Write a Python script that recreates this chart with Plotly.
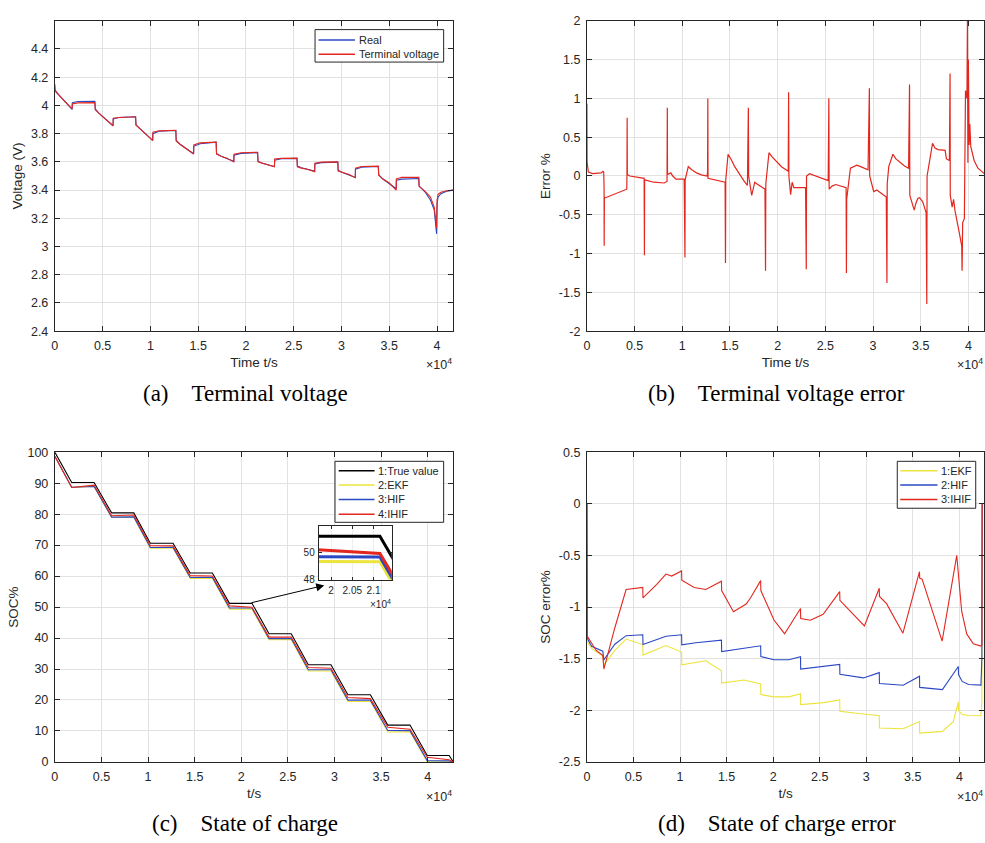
import plotly.graph_objects as go

# ---------------------------------------------------------------- data
# (a) terminal voltage: measured vs. model output
t_volt = [0, 60, 600, 1200, 1810, 1830, 2400, 4190, 4230, 4600, 5300, 6090, 6110, 6700,
          8450, 8490, 8900, 9500, 10240, 10260, 10900, 12660, 12700, 13100, 13800, 14520,
          14540, 15200, 16880, 16920, 17400, 18000, 18730, 18750, 19500, 21220, 21260,
          21700, 22300, 22980, 23000, 23700, 25340, 25380, 25800, 26400, 27190, 27210,
          27900, 29610, 29650, 30100, 30800, 31440, 31460, 32100, 33850, 33890, 34300,
          35000, 35720, 35740, 36300, 38080, 38120, 38700, 39300, 39700, 39950, 40000,
          40100, 40400, 41000, 41700]
v_real = [4.11, 4.10, 4.06, 4.015, 3.972, 4.02, 4.028, 4.03, 3.975, 3.945, 3.90, 3.856,
          3.905, 3.915, 3.92, 3.862, 3.835, 3.80, 3.752, 3.80, 3.817, 3.822, 3.752, 3.725,
          3.69, 3.658, 3.71, 3.728, 3.74, 3.66, 3.64, 3.622, 3.605, 3.648, 3.66, 3.665,
          3.605, 3.59, 3.577, 3.567, 3.612, 3.622, 3.625, 3.57, 3.558, 3.548, 3.535, 3.585,
          3.595, 3.598, 3.54, 3.525, 3.505, 3.49, 3.548, 3.562, 3.567, 3.51, 3.48, 3.445,
          3.41, 3.47, 3.478, 3.482, 3.43, 3.39, 3.33, 3.26, 3.09, 3.30, 3.35, 3.375, 3.392,
          3.40]
v_model = [4.15, 4.105, 4.06, 4.015, 3.975, 4.01, 4.018, 4.02, 3.97, 3.945, 3.90, 3.856,
           3.91, 3.915, 3.92, 3.862, 3.835, 3.80, 3.75, 3.81, 3.82, 3.824, 3.748, 3.725,
           3.69, 3.656, 3.72, 3.735, 3.74, 3.655, 3.64, 3.625, 3.60, 3.655, 3.665, 3.668,
           3.60, 3.59, 3.577, 3.565, 3.62, 3.625, 3.627, 3.565, 3.556, 3.548, 3.53, 3.59,
           3.598, 3.60, 3.535, 3.525, 3.51, 3.488, 3.555, 3.567, 3.57, 3.505, 3.48, 3.45,
           3.40, 3.48, 3.49, 3.49, 3.425, 3.395, 3.35, 3.28, 3.13, 3.33, 3.37, 3.385, 3.395,
           3.40]

# (b) terminal voltage error, %
t_err = [0, 20, 150, 600, 1500, 1680, 1760, 1800, 1810, 1830, 1950, 3000, 4180, 4200,
         4220, 4240, 4500, 5900, 6000, 6030, 6050, 7000, 8100, 8400, 8430, 8450, 8800,
         9000, 9340, 10200, 10280, 10300, 10630, 11000, 11500, 12000, 12600, 12650, 12680,
         12700, 14490, 14530, 14560, 14800, 15100, 15500, 16000, 16500, 16830, 16930,
         16960, 17280, 17600, 17800, 18670, 18730, 18760, 19090, 19400, 19900, 20400,
         21110, 21150, 21180, 21360, 21520, 21700, 22930, 23000, 23030, 23340, 25300,
         25370, 25400, 25700, 26100, 27180, 27210, 27240, 27630, 28000, 28300, 28700,
         29480, 29620, 29650, 30070, 30400, 31390, 31460, 31490, 31650, 32090, 32400,
         32900, 33300, 33730, 33830, 33860, 34320, 34500, 34700, 34880, 35200, 35570,
         35640, 35670, 35920, 36240, 36500, 36800, 37560, 37700, 38010, 38080, 38100,
         38300, 38450, 38600, 39000, 39300, 39340, 39400, 39580, 39700, 39850, 39900,
         39950, 40000, 40080, 40150, 40250, 40600, 41000, 41670]
err_volt = [0.93, 0.18, 0.05, 0.03, 0.04, 0.06, 0.05, -0.15, -0.9, -0.28, -0.28, -0.23,
            -0.17, 0.0, 0.75, 0.02, 0.0, -0.02, -0.03, -1.02, -0.05, -0.08, -0.09, -0.07,
            0.88, 0.02, 0.04, 0.0, -0.04, -0.04, -1.05, -0.05, 0.12, 0.08, 0.04, 0.015,
            0.0, 0.05, 1.0, -0.03, -0.08, -1.12, -0.05, 0.28, 0.22, 0.12, 0.02, -0.07,
            -0.12, 0.88, 0.0, -0.25, -0.08, -0.1, -0.17, -1.22, -0.1, 0.3, 0.25, 0.18,
            0.12, 0.06, 1.08, 0.0, -0.24, -0.08, -0.15, -0.15, -1.2, 0.0, 0.03, -0.06, 1.0,
            -0.17, -0.13, -0.11, -0.15, -1.25, -0.3, 0.1, 0.12, 0.14, 0.12, 0.08, 1.13,
            0.0, -0.2, -0.18, -0.27, -1.38, -0.1, 0.12, 0.28, 0.22, 0.17, 0.13, 0.1, 1.18,
            -0.25, -0.44, -0.35, -0.29, -0.28, -0.33, -0.47, -1.65, 0.0, 0.2, 0.42, 0.36,
            0.34, 0.33, 0.22, 0.2, 1.32, -0.25, -0.4, -0.3, -0.45, -0.7, -0.9, -1.22, -0.6,
            -0.55, 1.1, 1.0, 2.0, 0.17, 1.5, 0.4, 0.67, 0.38, 0.2, 0.1, 0.03]

# (c) state of charge, %
t_soc = [0, 1810, 4210, 6090, 8470, 10240, 12680, 14520, 16900, 18730, 21150, 22980,
         25360, 27190, 29620, 31440, 33850, 35720, 38100, 39950, 42300, 42750]
soc_true = [100, 90.2, 90.2, 80.4, 80.4, 70.6, 70.6, 61.0, 61.0, 51.2, 51.2, 41.4, 41.4,
            31.4, 31.4, 21.7, 21.7, 11.9, 11.9, 2.1, 2.1, 0]
soc_ekf = [98.68, 88.63, 88.90, 78.93, 79.03, 69.04, 69.08, 59.26, 59.28, 49.34, 49.32,
           39.45, 39.48, 29.39, 29.36, 19.53, 19.53, 9.68, 9.70, 0.10, 0.05, 0]
soc_hif = [98.70, 88.66, 88.92, 79.03, 79.11, 69.23, 69.27, 59.56, 59.59, 49.71, 49.68,
           39.80, 39.83, 29.74, 29.75, 19.96, 19.95, 10.13, 10.12, 0.43, 0.34, 0]
soc_ihif = [98.70, 88.60, 89.38, 79.49, 79.72, 69.85, 69.76, 60.16, 60.03, 50.38, 49.94,
            40.29, 40.32, 30.47, 30.23, 20.80, 20.45, 11.18, 10.57, 1.50, 0.73, 0]

# (d) state of charge error, %
t_ihif = [0, 30, 1000, 1710, 1820, 3000, 4210, 5000, 6000, 6020, 7500, 8490, 9100,
          10170, 10190, 11520, 12770, 14450, 14470, 15740, 16880, 17100, 17580, 18660,
          18680, 20090, 21230, 22940, 22960, 24010, 25370, 27150, 27170, 29800, 31400,
          31420, 32180, 33940, 35720, 35740, 36000, 38150, 39720, 40250, 40790, 41500,
          42320, 42420, 42450]
err_ihif = [0, -1.28, -1.42, -1.47, -1.60, -1.20, -0.83, -0.82, -0.81, -0.91, -0.78,
            -0.68, -0.70, -0.65, -0.74, -0.81, -0.83, -0.75, -0.84, -1.046, -0.98, -0.97,
            -0.91, -0.744, -0.84, -1.125, -1.258, -1.014, -1.11, -1.127, -1.07, -0.85,
            -0.935, -1.183, -0.818, -0.897, -0.967, -1.253, -0.657, -0.72, -0.73, -1.33,
            -0.50, -1.04, -1.26, -1.355, -1.378, -1.37, 0]
t_hif = [0, 30, 500, 1710, 1820, 1830, 3000, 4210, 6000, 6020, 8490, 10170, 10190, 11700,
         14450, 14470, 18660, 18680, 20090, 21700, 22940, 22960, 27150, 27170, 29700,
         31400, 31420, 33970, 35720, 35740, 38180, 39350, 39890, 39910, 40300, 41000,
         42320, 42420, 42450]
err_hif = [0, -1.30, -1.38, -1.427, -1.513, -1.51, -1.36, -1.277, -1.268, -1.363, -1.283,
           -1.268, -1.366, -1.346, -1.32, -1.431, -1.375, -1.48, -1.51, -1.51, -1.48,
           -1.60, -1.555, -1.65, -1.686, -1.635, -1.74, -1.757, -1.67, -1.778, -1.80,
           -1.654, -1.575, -1.654, -1.72, -1.75, -1.756, -1.5, 0]
t_ekf = [0, 30, 500, 1710, 1820, 1830, 3000, 4210, 6000, 6020, 8490, 10170, 10190, 12770,
         14450, 14470, 16880, 18660, 18680, 20090, 21700, 22940, 22960, 25440, 27150,
         27170, 29700, 31400, 31420, 33970, 35720, 35740, 38180, 39350, 39890, 39910,
         40300, 41000, 42320, 42420, 42450]
err_ekf = [0, -1.33, -1.40, -1.474, -1.57, -1.56, -1.42, -1.31, -1.363, -1.465, -1.372,
           -1.436, -1.56, -1.52, -1.617, -1.737, -1.706, -1.744, -1.848, -1.87, -1.87,
           -1.84, -1.944, -1.925, -1.90, -2.01, -2.036, -2.052, -2.172, -2.179, -2.109,
           -2.22, -2.204, -2.109, -1.92, -2.0, -2.04, -2.05, -2.052, -1.9, 0]

# tick labels
time_ticks = [0, 5000, 10000, 15000, 20000, 25000, 30000, 35000, 40000]
time_labels = ["0", "0.5", "1", "1.5", "2", "2.5", "3", "3.5", "4"]
volt_ticks = [2.4, 2.6, 2.8, 3.0, 3.2, 3.4, 3.6, 3.8, 4.0, 4.2, 4.4]
volt_labels = ["2.4", "2.6", "2.8", "3", "3.2", "3.4", "3.6", "3.8", "4", "4.2", "4.4"]
verr_ticks = [-2, -1.5, -1, -0.5, 0, 0.5, 1, 1.5, 2]
verr_labels = ["-2", "-1.5", "-1", "-0.5", "0", "0.5", "1", "1.5", "2"]
soc_ticks = [0, 10, 20, 30, 40, 50, 60, 70, 80, 90, 100]
soc_labels = [str(v) for v in soc_ticks]
serr_ticks = [-2.5, -2, -1.5, -1, -0.5, 0, 0.5]
serr_labels = ["-2.5", "-2", "-1.5", "-1", "-0.5", "0", "0.5"]
zoom_ticks = [20000, 20500, 21000]
zoom_labels = ["2", "2.05", "2.1"]

# ---------------------------------------------------------------- style
W, H = 985, 843
SANS = "Liberation Sans, Arial, sans-serif"
SERIF = "Liberation Serif, Times New Roman, serif"
INK = "#262626"
GRID = "#e2e2e2"
BLUE = "#2a48c4"
RED = "#e3261e"
YELLOW = "#ece43c"
BLACK = "#000000"


def fx(px):
    return px / W


def fy(px):
    return 1 - px / H


def axis(dom, rng, tv, tt, title=None, size=12.5, grid=True, **kw):
    d = dict(domain=dom, range=rng, tickvals=tv, ticktext=tt, showline=True,
             linecolor=INK, linewidth=1, mirror="ticks", ticks="inside", ticklen=5,
             tickcolor=INK, tickwidth=1, showgrid=grid, gridcolor=GRID, gridwidth=1,
             zeroline=False, ticklabelstandoff=3,
             tickfont=dict(family=SANS, size=size, color=INK))
    if title:
        d["title"] = dict(text=title, font=dict(family=SANS, size=13.5, color=INK))
    d.update(kw)
    return d


fig = go.Figure()

# (a)
fig.add_trace(go.Scatter(x=t_volt, y=v_real, mode="lines", name="Real",
                         line=dict(color=BLUE, width=1.1), xaxis="x", yaxis="y"))
fig.add_trace(go.Scatter(x=t_volt, y=v_model, mode="lines", name="Terminal voltage",
                         line=dict(color=RED, width=1.1), xaxis="x", yaxis="y"))
# (b)
fig.add_trace(go.Scatter(x=t_err, y=err_volt, mode="lines", name="Error",
                         line=dict(color=RED, width=1.2), xaxis="x2", yaxis="y2"))
# (c)
soc_series = [("1:True value", soc_true, BLACK), ("2:EKF", soc_ekf, YELLOW),
              ("3:HIF", soc_hif, BLUE), ("4:IHIF", soc_ihif, RED)]
for name, ys, col in soc_series:
    fig.add_trace(go.Scatter(x=t_soc, y=ys, mode="lines", name=name,
                             line=dict(color=col, width=1.1), xaxis="x3", yaxis="y3"))
# zoomed inset of (c)
for name, ys, col in soc_series:
    fig.add_trace(go.Scatter(x=t_soc, y=ys, mode="lines", name=name,
                             line=dict(color=col, width=3), xaxis="x5", yaxis="y5"))
# (d)
err_series = [("1:EKF", t_ekf, err_ekf, YELLOW), ("2:HIF", t_hif, err_hif, BLUE),
              ("3:IHIF", t_ihif, err_ihif, RED)]
for name, xs, ys, col in err_series:
    fig.add_trace(go.Scatter(x=xs, y=ys, mode="lines", name=name,
                             line=dict(color=col, width=1.1), xaxis="x4", yaxis="y4"))

top_row = [fy(329.7), fy(14)]
bot_row = [fy(767.7), fy(452.7)]
left_col = [fx(52), fx(451.7)]
right_col = [fx(585.7), fx(984.3)]

fig.update_layout(
    width=W, height=H, margin=dict(l=0, r=0, t=0, b=0),
    paper_bgcolor="white", plot_bgcolor="white", showlegend=False,
    xaxis=axis(left_col, [0, 41700], time_ticks, time_labels, "Time t/s",
               anchor="y", title_standoff=5),
    yaxis=axis(top_row, [2.4, 4.6], volt_ticks, volt_labels, "Voltage (V)",
               anchor="x", title_standoff=5),
    xaxis2=axis(right_col, [0, 41670], time_ticks, time_labels, "Time t/s",
                anchor="y2", title_standoff=5),
    yaxis2=axis(top_row, [-2, 2], verr_ticks, verr_labels, "Error %",
                anchor="x2", title_standoff=5),
    xaxis3=axis(left_col, [0, 42750], time_ticks, time_labels, "t/s",
                anchor="y3", title_standoff=5),
    yaxis3=axis(bot_row, [0, 100], soc_ticks, soc_labels, "SOC%",
                anchor="x3", title_standoff=5),
    xaxis4=axis(right_col, [0, 42680], time_ticks, time_labels, "t/s",
                anchor="y4", title_standoff=5),
    yaxis4=axis(bot_row, [-2.5, 0.5], serr_ticks, serr_labels, "SOC error%",
                anchor="x4", title_standoff=5),
    xaxis5=axis([fx(316.7), fx(390)], [19710, 21430], zoom_ticks, zoom_labels,
                size=10, anchor="y5", ticklen=3, gridcolor="#eeeeee",
                ticklabelstandoff=1),
    yaxis5=axis([fy(582.3), fy(527.3)], [48, 52], [48, 50], ["48", "50"],
                size=10, anchor="x5", ticklen=3, gridcolor="#eeeeee",
                ticklabelstandoff=1),
)

# white backing for the inset so the main curves do not show through
fig.add_shape(type="rect", xref="x5 domain", yref="y5 domain", x0=0, x1=1, y0=0, y1=1,
              fillcolor="white", line=dict(width=0), layer="below")


def legend_box(x0, x1, y0, y1, rows, line_x0, line_x1, text_x):
    """Boxed legend: rows are (label, colour, y centre) in pixels."""
    fig.add_shape(type="rect", xref="paper", yref="paper", x0=fx(x0), x1=fx(x1),
                  y0=fy(y1), y1=fy(y0), fillcolor="white", line=dict(color=INK, width=1),
                  layer="above")
    for label, col, yc in rows:
        fig.add_shape(type="line", xref="paper", yref="paper", x0=fx(line_x0),
                      x1=fx(line_x1), y0=fy(yc), y1=fy(yc),
                      line=dict(color=col, width=1.5), layer="above")
        fig.add_annotation(x=fx(text_x), y=fy(yc), xref="paper", yref="paper",
                           text=label, showarrow=False, xanchor="left", yanchor="middle",
                           font=dict(family=SANS, size=11, color=INK))


legend_box(313, 442, 23, 56, [("Real", BLUE, 33.5), ("Terminal voltage", RED, 48)],
           316.5, 353, 355)
legend_box(333, 442, 462, 524,
           [(n, c, y) for (n, _, c), y in zip(soc_series, [471.7, 486, 500.7, 515.7])],
           336.7, 372.7, 374)
legend_box(897, 975.7, 462, 509.7,
           [(n, c, y) for (n, _, _, c), y in zip(err_series, [471.7, 486, 500.7])],
           900, 937.3, 939)

# arrow from the 50 % plateau to the inset
fig.add_annotation(x=28900, y=57.0, ax=20950, ay=51.3, xref="x3", yref="y3",
                   axref="x3", ayref="y3", text="", showarrow=True, arrowhead=2,
                   arrowsize=1.6, arrowwidth=1, arrowcolor=BLACK)

# x10^4 exponent labels
for x, y in [(452, 363), (985, 363), (452, 802), (985, 802)]:
    fig.add_annotation(x=fx(x), y=fy(y), xref="paper", yref="paper",
                       text="×10<sup>4</sup>", showarrow=False, xanchor="right",
                       yanchor="middle", font=dict(family=SANS, size=12.5, color=INK))
fig.add_annotation(x=fx(391), y=fy(607), xref="paper", yref="paper",
                   text="×10<sup>4</sup>", showarrow=False, xanchor="right",
                   yanchor="middle", font=dict(family=SANS, size=10, color=INK))

# sub-figure captions
for x, y, txt in [(243, 393, "(a)\u2003Terminal voltage"),
                  (776, 393, "(b)\u2003Terminal voltage error"),
                  (243, 830, "(c)\u2003State of charge"),
                  (776, 830, "(d)\u2003State of charge error")]:
    fig.add_annotation(x=fx(x), y=fy(y), xref="paper", yref="paper", text=txt,
                       showarrow=False, xanchor="center", yanchor="middle",
                       font=dict(family=SERIF, size=23, color=BLACK))

fig.write_html("out.html")
